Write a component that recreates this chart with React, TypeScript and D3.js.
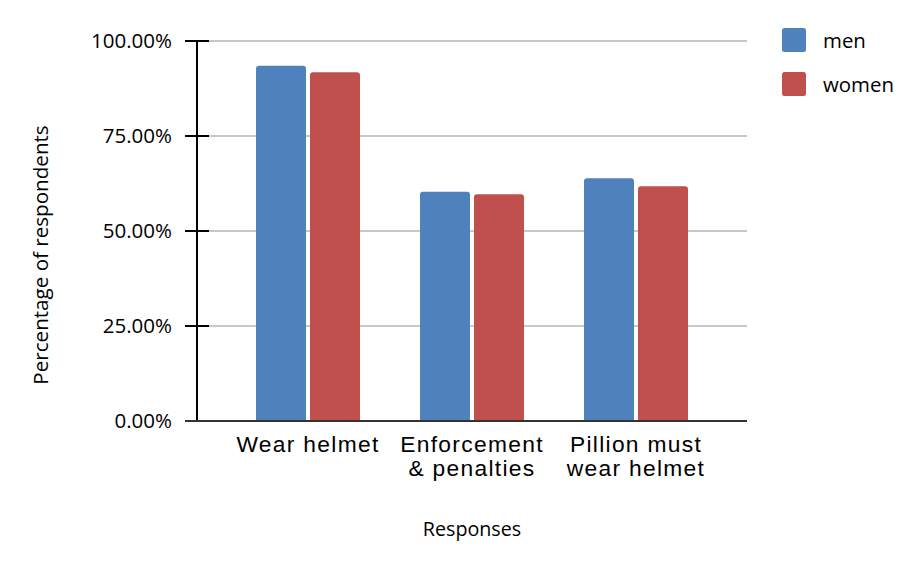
import React from "react";
import * as d3 from "d3";

const categories: string[][] = [
  ["Wear helmet"],
  ["Enforcement", "& penalties"],
  ["Pillion must", "wear helmet"],
];
const seriesNames = ["men", "women"];
const menValues = [0.935, 0.603, 0.639];
const womenValues = [0.918, 0.597, 0.618];
const yTicks = [0, 0.25, 0.5, 0.75, 1];
const colors = ["#4F81BD", "#C0504D"];

function topRoundedRect(x: number, y: number, w: number, h: number, r: number) {
  const rr = Math.min(r, h, w / 2);
  const p = d3.path();
  p.moveTo(x, y + h);
  p.lineTo(x, y + rr);
  p.quadraticCurveTo(x, y, x + rr, y);
  p.lineTo(x + w - rr, y);
  p.quadraticCurveTo(x + w, y, x + w, y + rr);
  p.lineTo(x + w, y + h);
  p.closePath();
  return p.toString();
}

export default function App() {
  const W = 924;
  const H = 570;
  const axisX = 197;
  const plotRight = 747;
  const y = d3.scaleLinear().domain([0, 1]).range([421 - 8, 41 - 8]);
  const x0 = d3
    .scaleBand<number>()
    .domain(categories.map((_, i) => i))
    .range([226 - 8, 718 - 8])
    .padding(0);
  const x1 = d3
    .scaleBand<string>()
    .domain(seriesNames)
    .range([0, 104])
    .paddingInner(4 / 54)
    .paddingOuter(0);
  const groupW = 104;
  const values = [menValues, womenValues];
  const fmt = d3.format(".2%");
  const ax = axisX - 8;
  const pr = plotRight - 8;

  return (
    <svg width={W - 16} height={H - 16} style={{ display: "block" }}>
      {yTicks.map((t) => (
        <g key={t}>
          {t > 0 && (
            <line x1={ax + 12} x2={pr} y1={y(t)} y2={y(t)} stroke="#c8c8c8" strokeWidth={2} />
          )}
          <line x1={ax - 12} x2={ax + 12} y1={y(t)} y2={y(t)} stroke="#000" strokeWidth={2} />
          <text
            x={ax - 25}
            y={y(t) + 6.5}
            textAnchor="end"
            fontFamily="Open Sans"
            fontSize={20.5}
            fill="#000"
          >
            {fmt(t)}
          </text>
        </g>
      ))}
      {categories.map((_, i) => {
        const cx = (x0(i) as number) + x0.bandwidth() / 2;
        return seriesNames.map((s, j) => {
          const bx = cx - groupW / 2 + (x1(s) as number);
          const v = values[j][i];
          return (
            <path
              key={`${i}-${s}`}
              d={topRoundedRect(bx, y(v), x1.bandwidth(), y(0) - y(v), 3)}
              fill={colors[j]}
            />
          );
        });
      })}
      <line x1={ax} x2={ax} y1={y(1)} y2={y(0)} stroke="#000" strokeWidth={2} />
      <line x1={ax - 12} x2={pr} y1={y(0)} y2={y(0)} stroke="#333" strokeWidth={2} />
      {categories.map((lines, i) => {
        const cx = (x0(i) as number) + x0.bandwidth() / 2;
        return (
          <text
            key={i}
            x={cx}
            textAnchor="middle"
            fontFamily="Liberation Sans"
            fontSize={22.8}
            letterSpacing={1.3}
            fill="#000"
          >
            {lines.map((l, k) => (
              <tspan key={k} x={cx} y={452 - 8 + k * 24}>
                {l}
              </tspan>
            ))}
          </text>
        );
      })}
      <text
        x={472 - 8}
        y={536 - 8}
        textAnchor="middle"
        fontFamily="Open Sans"
        fontSize={19.7}
        fill="#000"
      >
        Responses
      </text>
      <text
        transform={`translate(${48 - 8},${255 - 8}) rotate(-90)`}
        textAnchor="middle"
        fontFamily="Open Sans"
        fontSize={20.6}
        fill="#000"
      >
        Percentage of respondents
      </text>
      {seriesNames.map((s, j) => (
        <g key={s} transform={`translate(${782 - 8},${28 - 8 + j * 44})`}>
          <rect width={24} height={24} rx={2.5} fill={colors[j]} />
          <text x={41} y={20} fontFamily="Open Sans" fontSize={20.4} fill="#000">
            {s}
          </text>
        </g>
      ))}
    </svg>
  );
}
